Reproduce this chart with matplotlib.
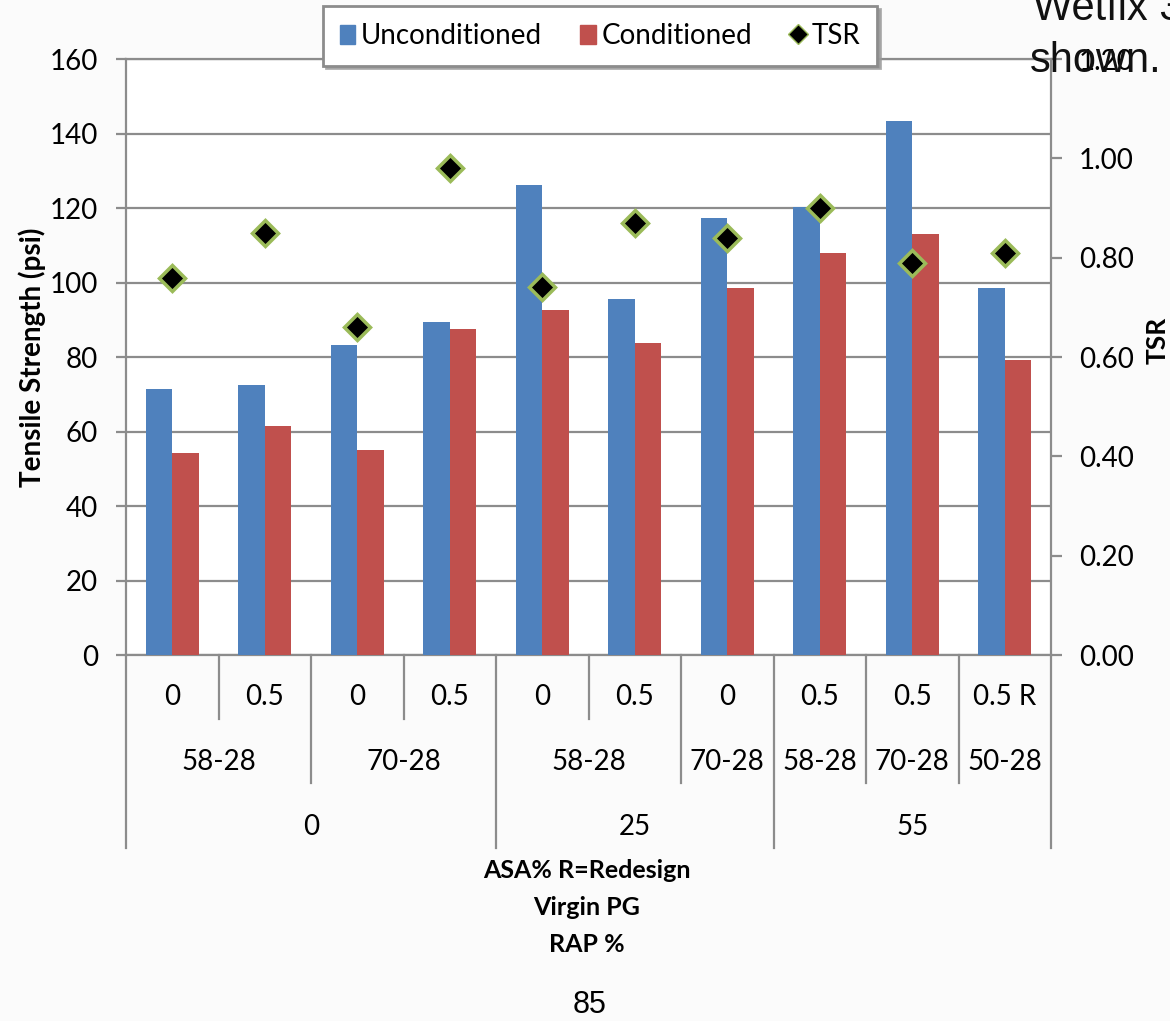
import matplotlib
matplotlib.use("Agg")
import matplotlib.pyplot as plt
import numpy as np
from matplotlib.lines import Line2D
from matplotlib.patches import Patch

# tensile strength (psi) per mix
asa_pct = ["0", "0.5", "0", "0.5", "0", "0.5", "0", "0.5", "0.5", "0.5 R"]
unconditioned = [71.5, 72.4, 83.2, 89.3, 126.1, 95.7, 117.3, 120.3, 143.4, 98.4]
conditioned = [54.1, 61.6, 55.1, 87.6, 92.7, 83.7, 98.4, 108.0, 113.1, 79.3]
tsr = [0.76, 0.85, 0.66, 0.98, 0.74, 0.87, 0.84, 0.90, 0.79, 0.81]

# grouping rows under the bars: (label, number of mixes)
virgin_pg = [("58-28", 2), ("70-28", 2), ("58-28", 2), ("70-28", 1),
             ("58-28", 1), ("70-28", 1), ("50-28", 1)]
rap_pct = [("0", 4), ("25", 3), ("55", 3)]

BLUE = "#4F81BD"
RED = "#C0504D"
GRID = "#8C8C8C"
LBL = ["Lato", "DejaVu Sans"]
W, H = 1170, 1021

fig = plt.figure(figsize=(W / 100, H / 100), dpi=100, facecolor="#FBFBFB")
ax = fig.add_axes([126 / W, 1 - 655 / H, 925 / W, 596 / H])
ax2 = ax.twinx()

x = np.arange(len(asa_pct))
w = 0.287
ax.bar(x - w / 2, unconditioned, w, color=BLUE, zorder=3)
ax.bar(x + w / 2, conditioned, w, color=RED, zorder=3)

ax.set_xlim(-0.5, len(asa_pct) - 0.5)
ax.set_ylim(0, 160)
ax.set_yticks(np.arange(0, 161, 20))
ax.yaxis.grid(True, color=GRID, linewidth=1.6, zorder=0)
ax.set_axisbelow(True)
ax.set_xticks([])
for s in ax.spines.values():
    s.set_color(GRID)
    s.set_linewidth(1.6)
ax.tick_params(axis="y", colors=GRID, length=7, width=1.6, labelsize=20,
               labelcolor="black", pad=13)
for t in ax.get_yticklabels():
    t.set_family(LBL)

ax2.plot(x, tsr, linestyle="none", marker="D", markersize=13,
         markerfacecolor="black", markeredgecolor="#9BBB59",
         markeredgewidth=2.5, zorder=5)
ax2.set_ylim(0, 1.2)
ax2.set_yticks(np.arange(0, 1.21, 0.2))
ax2.set_yticklabels([f"{v:.2f}" for v in np.arange(0, 1.21, 0.2)])
ax2.tick_params(axis="y", colors=GRID, length=8, width=1.6, labelsize=20,
                labelcolor="black", pad=12)
for t in ax2.get_yticklabels():
    t.set_family(LBL)
for s in ax2.spines.values():
    s.set_visible(False)

fig.text(32 / W, 1 - 357 / H, "Tensile Strength (psi)", rotation=90,
         ha="center", va="center", fontsize=20, fontweight="bold", family=LBL)
fig.text(1158 / W, 1 - 340 / H, "TSR", rotation=90, ha="center",
         va="center", fontsize=19, fontweight="bold", family=LBL)

# multi-level category axis
tr = ax.get_xaxis_transform()
row_y = [-(697 - 655) / 596, -(762 - 655) / 596, -(827 - 655) / 596]
row_end = [-(719 - 655) / 596, -(783 - 655) / 596, -(848 - 655) / 596]

for i, lab in enumerate(asa_pct):
    ax.text(i, row_y[0], lab, transform=tr, ha="center", va="center",
            fontsize=20, family=LBL)

pg_edges = np.cumsum([n for _, n in virgin_pg])
rap_edges = np.cumsum([n for _, n in rap_pct])

start = 0
for lab, n in virgin_pg:
    ax.text(start + n / 2 - 0.5, row_y[1], lab, transform=tr, ha="center",
            va="center", fontsize=20, family=LBL)
    start += n
start = 0
for lab, n in rap_pct:
    ax.text(start + n / 2 - 0.5, row_y[2], lab, transform=tr, ha="center",
            va="center", fontsize=20, family=LBL)
    start += n

for b in range(len(asa_pct) + 1):
    if b == 0 or b in rap_edges:
        end = row_end[2]
    elif b in pg_edges:
        end = row_end[1]
    else:
        end = row_end[0]
    ax.plot([b - 0.5, b - 0.5], [0, end], transform=tr, color=GRID,
            linewidth=1.6, clip_on=False)

for k, line in enumerate(["ASA% R=Redesign", "Virgin PG", "RAP %"]):
    fig.text(587 / W, 1 - (870 + 37 * k) / H, line, ha="center",
             va="center", fontsize=18, fontweight="bold", family=LBL)

handles = [Patch(color=BLUE, label="Unconditioned"),
           Patch(color=RED, label="Conditioned"),
           Line2D([], [], linestyle="none", marker="D", markersize=10,
                  markerfacecolor="black", markeredgecolor="#9BBB59",
                  label="TSR")]
leg = fig.legend(handles=handles, loc="center", ncol=3,
                 bbox_to_anchor=(600 / W, 1 - 36 / H), frameon=True,
                 fancybox=False, shadow={"color": "#9a9a9a", "alpha": 0.8},
                 edgecolor="#8C8C8C", prop={"family": LBL, "size": 20},
                 handlelength=0.55, handleheight=0.7, handletextpad=0.2,
                 columnspacing=1.4, borderpad=0.6, borderaxespad=0)
leg.get_frame().set_linewidth(2)

# slide text around the chart
fig.text(1033 / W, 1 - 20 / H, "Wetfix 3", fontsize=30,
         family="Liberation Sans", color="#111111", va="baseline", zorder=10)
fig.text(1030 / W, 1 - 72 / H, "shown.", fontsize=30,
         family="Liberation Sans", color="#111111", va="baseline", zorder=10)
fig.text(590 / W, 1 - 1005 / H, "85", fontsize=22,
         family="Liberation Sans", ha="center", va="center")

fig.savefig("out.png", dpi=100, facecolor=fig.get_facecolor())
